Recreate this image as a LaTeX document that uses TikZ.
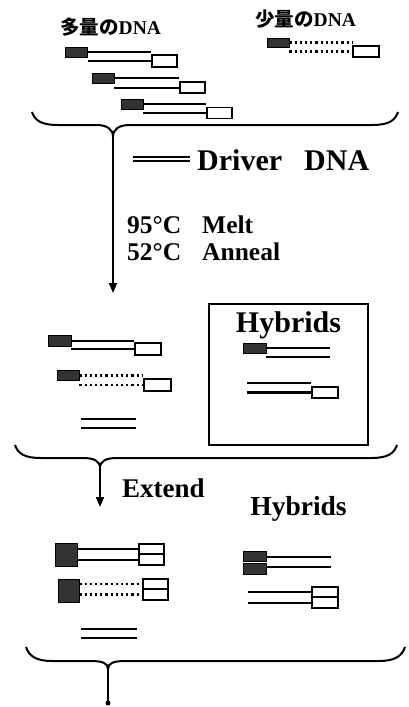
\documentclass[tikz,border=0pt]{standalone}
\usepackage{fontspec}
\setmainfont{Liberation Serif}
\newfontfamily\cjk{Noto Sans CJK JP}
\usetikzlibrary{arrows.meta}
\begin{document}
\begin{tikzpicture}[x=1pt,y=-1pt,
  fbox/.style={draw=black, fill=black!80, line width=0.8pt, inner sep=0pt, minimum width=22pt, minimum height=10pt},
  obox/.style={draw=black, fill=white, line width=1.3pt, inner sep=0pt, minimum width=25pt, minimum height=11pt},
  strand/.style={line width=2pt},
  hstrand/.style={line width=2.5pt},
  dstrand/.style={line width=2.2pt, dash pattern=on 2.2pt off 3pt},
  bracepath/.style={line width=2pt},
  arrowline/.style={line width=1.8pt, -{Triangle[length=10pt,width=8pt]}},
  jlbl/.style={font=\bfseries\fontsize{19.5}{22}\selectfont, inner sep=0pt, anchor=base west},
  lbl/.style={font=\bfseries\fontsize{25.5}{30}\selectfont, inner sep=0pt, anchor=base west},
  biglbl/.style={font=\bfseries\fontsize{30}{34}\selectfont, inner sep=0pt}
]
\useasboundingbox (0,0) rectangle (408,707);

% ---------- top: texts ----------
\node[jlbl] (tj1) at (60,34) {{\cjk\bfseries 多量の}DNA};
\node[jlbl] (tj2) at (255,26) {{\cjk\bfseries 少量の}DNA};

% ---------- top strands ----------
\node[fbox] (f1) at (76.5,52) {};
\node[obox, minimum height=12pt] (o1) at (164.5,61) {};
\draw[strand] (f1.east) -- (f1.east -| o1.west);
\draw[strand] (o1.west -| f1.east) -- (o1.west);

\node[fbox] (f2) at (103,78) {};
\node[obox] (o2) at (192.5,87.5) {};
\draw[strand] (f2.east) -- (f2.east -| o2.west);
\draw[strand] (o2.west -| f2.east) -- (o2.west);

\node[fbox] (f3) at (132,104) {};
\node[obox] (o3) at (219.5,113) {};
\draw[strand] (f3.east) -- (f3.east -| o3.west);
\draw[strand] (o3.west -| f3.east) -- (o3.west);

\node[fbox, minimum height=9pt] (f4) at (278,42.5) {};
\node[obox, minimum width=26pt] (o4) at (366,51.5) {};
\draw[dstrand] (f4.east) -- (f4.east -| o4.west);
\draw[dstrand] (o4.west -| f4.east) -- (o4.west);

% ---------- brace 1 and arrow ----------
\coordinate (b1) at (113,137);
\coordinate (a1) at (113,293);
\draw[bracepath] (32,112) .. controls (35,121) and (42,125) .. (58,125) -- (96,125)
  .. controls (107,125) and (113,129) .. (b1)
  .. controls (113,129) and (119,125) .. (130,125) -- (372,125)
  .. controls (388,125) and (395,121) .. (398,112);
\draw[arrowline] (b1) -- (a1);

% Driver DNA
\coordinate (dd1) at (133,156.5);
\coordinate (dd2) at (190,156.5);
\coordinate (dd3) at (133,160.5);
\coordinate (dd4) at (190,160.5);
\draw[strand] (dd1) -- (dd2);
\draw[strand] (dd3) -- (dd4);
\node[lbl, font=\bfseries\fontsize{30}{34}\selectfont] (drv) at (197,170.5) {Driver};
\node[lbl, font=\bfseries\fontsize{30}{34}\selectfont] (dna) at (304,170.5) {DNA};

\node[lbl] (t95) at (127,233) {95°C};
\node[lbl] (melt) at (202,233) {Melt};
\node[lbl] (t52) at (127,260) {52°C};
\node[lbl] (anneal) at (202,260) {Anneal};

% ---------- after anneal ----------
\node[fbox, minimum width=23pt, minimum height=11pt] (fa) at (59.5,340.5) {};
\node[obox, minimum width=26pt, minimum height=12pt] (oa) at (148,349) {};
\draw[strand] (fa.east) -- (fa.east -| oa.west);
\draw[strand] (oa.west -| fa.east) -- (oa.west);

\node[fbox] (fb) at (68,375.5) {};
\node[obox, minimum width=27pt, minimum height=12pt] (ob) at (157.5,385) {};
\draw[dstrand] (fb.east) -- (fb.east -| ob.west);
\draw[dstrand] (ob.west -| fb.east) -- (ob.west);

\coordinate (dr1) at (81,419);
\coordinate (dr2) at (136,419);
\coordinate (dr3) at (81,428);
\coordinate (dr4) at (136,428);
\draw[hstrand] (dr1) -- (dr2);
\draw[hstrand] (dr3) -- (dr4);

% Hybrids box
\node[draw, line width=1.5pt, minimum width=159pt, minimum height=141pt, inner sep=0pt] (hbox) at (288.5,374.5) {};
\node[biglbl, anchor=base] (hyb1) at (288.5,332) {Hybrids};

\node[fbox, minimum width=23pt] (h1) at (254.5,348) {};
\coordinate (h1e) at (330,348);
\coordinate (h1s) at (266,357);
\coordinate (h1t) at (330,357);
\draw[hstrand] (h1.east) -- (h1e);
\draw[hstrand] (h1s) -- (h1t);

\node[obox, minimum width=26pt] (ho) at (325,392.5) {};
\coordinate (h2a) at (247,383);
\coordinate (h2b) at (247,392.5);
\draw[hstrand] (h2a) -- (h2a -| ho.west);
\draw[hstrand] (h2b) -- (ho.west);

% ---------- brace 2 and arrow ----------
\coordinate (b2) at (100,468);
\coordinate (a2) at (100,507);
\draw[bracepath] (15,445) .. controls (18,454) and (25,458) .. (41,458) -- (83,458)
  .. controls (94,458) and (100,461) .. (b2)
  .. controls (100,461) and (106,458) .. (117,458) -- (371,458)
  .. controls (387,458) and (394,454) .. (397,445);
\draw[arrowline] (b2) -- (a2);

\node[lbl, font=\bfseries\fontsize{27}{30}\selectfont] (ext) at (122,497) {Extend};
\node[biglbl, anchor=base, font=\bfseries\fontsize{27.5}{30}\selectfont] (hyb2) at (298.5,515) {Hybrids};

% ---------- extended ----------
\node[fbox, minimum height=23pt] (ea) at (66,554.5) {};
\node[obox, minimum height=10pt] (eat) at (151.5,549) {};
\node[obox, minimum height=11pt] (eab) at (151.5,559.5) {};
\draw[strand] (eat.west -| ea.east) -- (eat.west);
\draw[strand] (eab.west -| ea.east) -- (eab.west);

\node[fbox, minimum width=21pt, minimum height=23pt] (eb) at (68.5,590.5) {};
\node[obox, minimum height=10pt] (ebt) at (155.5,584) {};
\node[obox, minimum height=11pt] (ebb) at (155.5,594.5) {};
\draw[dstrand] (ebt.west -| eb.east) -- (ebt.west);
\draw[dstrand] (ebb.west -| eb.east) -- (ebb.west);

\coordinate (ed1) at (81,629);
\coordinate (ed2) at (137,629);
\coordinate (ed3) at (81,638);
\coordinate (ed4) at (137,638);
\draw[hstrand] (ed1) -- (ed2);
\draw[hstrand] (ed3) -- (ed4);

\node[fbox, minimum width=23pt] (eh1) at (254.5,556) {};
\node[fbox, minimum width=23pt, minimum height=11pt] (eh2) at (254.5,568.5) {};
\coordinate (eh1e) at (331,557);
\coordinate (eh2e) at (331,567);
\draw[strand] (eh1.east |- eh1e) -- (eh1e);
\draw[strand] (eh2.east |- eh2e) -- (eh2e);

\node[obox, minimum width=26pt, minimum height=10pt] (eot) at (325,592) {};
\node[obox, minimum width=26pt, minimum height=11pt] (eob) at (325,602.5) {};
\coordinate (eol1) at (248,592);
\coordinate (eol2) at (248,602.5);
\draw[strand] (eol1) -- (eot.west);
\draw[strand] (eol2) -- (eob.west);

% ---------- brace 3 ----------
\coordinate (b3) at (108,669);
\coordinate (a3) at (108,703);
\draw[bracepath] (26,647) .. controls (29,656) and (36,661) .. (52,661) -- (91,661)
  .. controls (102,661) and (108,663) .. (b3)
  .. controls (108,663) and (114,661) .. (125,661) -- (379,661)
  .. controls (395,661) and (402,656) .. (405,647);
\draw[line width=1.8pt] (b3) -- (a3);
\fill (a3) circle (2.5pt);
\end{tikzpicture}
\end{document}
